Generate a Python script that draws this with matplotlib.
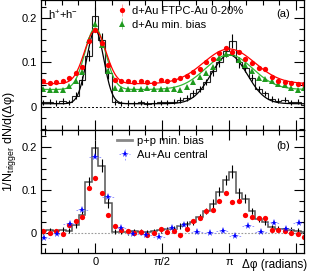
"""
Azimuthal correlations: p+p, d+Au and Au+Au (two panels).
"""
import numpy as np
import matplotlib
matplotlib.use("Agg")
import matplotlib.pyplot as plt
from matplotlib.ticker import MultipleLocator

plt.rcParams['font.family'] = ['Liberation Sans', 'DejaVu Sans']
plt.rcParams['mathtext.fontset'] = 'custom'
plt.rcParams['mathtext.rm'] = 'Liberation Sans'
plt.rcParams['mathtext.it'] = 'Liberation Sans:italic'

FONT = 8

# binning: fine bins for p+p / d+Au, coarse bins for Au+Au
BIN_W = 2 * np.pi / 41
K_FIRST = -8
AUAU_BIN_W = 2 * np.pi / 21
AUAU_J_FIRST = -4

# panel (a), one value per fine bin, k = -8 .. 32
PP_A = [0.010, 0.012, 0.009, 0.013, 0.010, 0.025, 0.060, 0.115, 0.204, 0.150,
        0.075, 0.010, 0.008, 0.009, 0.008, 0.010, 0.007, 0.009, 0.010, 0.010,
        0.012, 0.015, 0.020, 0.030, 0.040, 0.055, 0.080, 0.100, 0.125, 0.148,
        0.100, 0.088, 0.065, 0.040, 0.030, 0.018, 0.014, 0.016, 0.010, 0.012,
        0.005]
PP_ERR = [0.006, 0.006, 0.006, 0.006, 0.006, 0.008, 0.010, 0.012, 0.020, 0.015,
          0.012, 0.006, 0.006, 0.006, 0.006, 0.006, 0.006, 0.006, 0.006, 0.006,
          0.006, 0.007, 0.007, 0.007, 0.007, 0.007, 0.010, 0.010, 0.012, 0.015,
          0.012, 0.010, 0.008, 0.006, 0.006, 0.006, 0.006, 0.006, 0.006, 0.006,
          0.006]
DAU_CENTRAL_A = [0.057, 0.053, 0.055, 0.057, 0.064, 0.077, 0.089, 0.148, 0.172, 0.143,
                 0.094, 0.061, 0.059, 0.058, 0.055, 0.057, 0.055, 0.053, 0.060, 0.058,
                 0.061, 0.064, 0.070, 0.079, 0.086, 0.100, 0.107, 0.122, 0.133, 0.123,
                 0.124, 0.107, 0.098, 0.088, 0.085, 0.068, 0.059, 0.055, 0.054, 0.052,
                 0.052]
DAU_MINBIAS_A = [0.040, 0.037, 0.037, 0.037, 0.047, 0.058, 0.079, 0.150, 0.185, 0.140,
                 0.080, 0.043, 0.041, 0.040, 0.040, 0.040, 0.043, 0.040, 0.040, 0.040,
                 0.040, 0.037, 0.045, 0.055, 0.067, 0.075, 0.090, 0.110, 0.118, 0.120,
                 0.105, 0.093, 0.080, 0.065, 0.062, 0.057, 0.052, 0.050, 0.042, 0.038,
                 0.043]

# panel (b), pedestal subtracted
PP_B = [0.004, 0.006, 0.004, 0.007, 0.005, 0.019, 0.042, 0.119, 0.197, 0.157,
        0.070, 0.003, 0.003, 0.002, 0.004, 0.003, 0.001, 0.004, 0.006, 0.008,
        0.010, 0.015, 0.020, 0.025, 0.036, 0.050, 0.068, 0.096, 0.123, 0.143,
        0.092, 0.080, 0.050, 0.032, 0.025, 0.013, 0.009, 0.008, 0.007, 0.005,
        0.003]
DAU_CENTRAL_B = [0.005, -0.001, 0.004, -0.002, 0.018, 0.028, 0.038, 0.104, 0.128, 0.093,
                 0.042, 0.015, 0.007, 0.005, 0.000, 0.003, -0.005, 0.000, 0.008, 0.003,
                 0.005, -0.006, 0.008, 0.028, 0.034, 0.052, 0.053, 0.075, 0.093, 0.072,
                 0.074, 0.041, 0.038, 0.035, 0.035, 0.007, 0.007, 0.005, 0.000, -0.002,
                 -0.009]
# Au+Au central, j = -4 .. 16 (coarse bins)
AUAU_CENTRAL = [-0.011, -0.003, 0.020, 0.053, 0.177, 0.084, 0.012, -0.003, -0.005, -0.009,
                0.011, 0.019, 0.001, 0.000, 0.005, -0.007, 0.016, 0.003, 0.024, 0.009,
                0.024]

# fits: pedestal, near amp, near sigma, away amp, away sigma
FIT_PP = (0.007, 0.166, 0.20, 0.110, 0.42)
FIT_DAU_CENTRAL = (0.052, 0.120, 0.25, 0.078, 0.60)
FIT_DAU_MINBIAS = (0.039, 0.138, 0.24, 0.078, 0.55)

XMIN, XMAX = -1.27, 4.90
RED, GREEN, BLUE = '#ff0000', '#1f9a1f', '#0000ff'


def two_gauss(x, ped, a1, s1, a2, s2):
    y = np.full_like(x, ped)
    for sh in (-2 * np.pi, 0.0, 2 * np.pi):
        y += a1 * np.exp(-(x - sh) ** 2 / (2 * s1 ** 2))
        y += a2 * np.exp(-(x - np.pi - sh) ** 2 / (2 * s2 ** 2))
    return y


def style(ax, ylim, labels):
    ax.set_xlim(XMIN, XMAX)
    ax.set_ylim(*ylim)
    ax.set_xticks([0, np.pi / 2, np.pi, 1.5 * np.pi])
    ax.set_xticklabels(['0', 'π/2', 'π', ''] if labels else [])
    ax.xaxis.set_minor_locator(MultipleLocator(np.pi / 8))
    ax.set_yticks([0, 0.1, 0.2])
    ax.set_yticklabels(['0', '0.1', '0.2'])
    ax.yaxis.set_minor_locator(MultipleLocator(0.025))
    ax.tick_params(which='both', direction='in', top=True, right=True,
                   labelsize=FONT, width=0.8)
    ax.tick_params(which='major', length=7, pad=3)
    ax.tick_params(which='minor', length=3.5)
    for s in ax.spines.values():
        s.set_linewidth(0.9)


k = np.arange(K_FIRST, K_FIRST + len(PP_A))
x = k * BIN_W
edges = np.append(x - BIN_W / 2, x[-1] + BIN_W / 2)
xa = np.arange(AUAU_J_FIRST, AUAU_J_FIRST + len(AUAU_CENTRAL)) * AUAU_BIN_W
xf = np.linspace(XMIN, XMAX, 600)

fig = plt.figure(figsize=(3.09, 2.76), dpi=100)
ax1 = fig.add_axes([0.133, 0.529, 0.851, 0.471])
ax2 = fig.add_axes([0.133, 0.0833, 0.851, 0.446])

# ── Panel (a) ─────────────────────────────────────────────────────────────────
ax1.axhline(0, color='k', lw=0.7, ls=(0, (2, 2)))
ax1.stairs(PP_A, edges, color='#222222', lw=0.8)
ax1.errorbar(x, PP_A, yerr=PP_ERR, fmt='none', ecolor='k', elinewidth=0.8)
ax1.plot(xf, two_gauss(xf, *FIT_PP), color='k', lw=0.9)
ax1.plot(xf, two_gauss(xf, *FIT_DAU_MINBIAS), color='#33bb33', lw=0.9)
ax1.plot(xf, two_gauss(xf, *FIT_DAU_CENTRAL), color=RED, lw=0.9)
ax1.errorbar(x, DAU_MINBIAS_A, yerr=0.003, fmt='^', color=GREEN, ms=4.6,
             ecolor='#88cc88', elinewidth=0.6, mew=0, label='d+Au min. bias')
ax1.errorbar(x, DAU_CENTRAL_A, yerr=0.004, fmt='o', color=RED, ms=3.8,
             ecolor='#ff9999', elinewidth=0.6, mew=0, label='d+Au FTPC-Au 0-20%')
style(ax1, (-0.052, 0.24), labels=False)
h, l = ax1.get_legend_handles_labels()
ax1.legend(h[::-1], l[::-1], loc='upper left', bbox_to_anchor=(0.285, 0.955),
           frameon=False, fontsize=FONT, handlelength=1.0, handletextpad=0.45,
           borderpad=0, borderaxespad=0, labelspacing=0.35)
ax1.text(0.025, 0.885, 'h$^{+}$+h$^{-}$', transform=ax1.transAxes,
         fontsize=FONT, va='center')
ax1.text(0.92, 0.89, '(a)', transform=ax1.transAxes, fontsize=FONT,
         ha='center', va='center')

# ── Panel (b) ─────────────────────────────────────────────────────────────────
ax2.axhline(0, color='#999999', lw=0.8, ls=(0, (1.5, 1.5)))
ax2.stairs(PP_B, edges, color='#555555', lw=1.1, label='p+p min. bias')
ax2.errorbar(x, PP_B, yerr=PP_ERR, fmt='none', ecolor='k', elinewidth=0.8)
ax2.errorbar(x, DAU_CENTRAL_B, yerr=0.005, fmt='o', color=RED, ms=3.8,
             ecolor='#ff9999', elinewidth=0.6, mew=0)
eb = ax2.errorbar(xa, AUAU_CENTRAL, xerr=AUAU_BIN_W / 2, yerr=0.003, fmt='*',
                  color=BLUE, ms=5.5, ecolor='#8888ff', elinewidth=0.6, mew=0,
                  label='Au+Au central')
eb[2][0].set_linestyle((0, (2, 2)))
style(ax2, (-0.047, 0.24), labels=True)
h, l = ax2.get_legend_handles_labels()
h[0] = plt.Line2D([], [], color='#888888', lw=2)
ax2.legend(h, l, loc='upper left', bbox_to_anchor=(0.29, 0.95),
           frameon=False, fontsize=FONT, handlelength=1.3, handletextpad=0.45,
           borderpad=0, borderaxespad=0, labelspacing=0.35)
ax2.text(0.92, 0.87, '(b)', transform=ax2.transAxes, fontsize=FONT,
         ha='center', va='center')

fig.text(0.032, 0.486, '1/N$_{\\mathrm{trigger}}$ dN/d(Δφ)', rotation=90,
         fontsize=FONT + 1, ha='center', va='center')
fig.text(0.993, 0.04, 'Δφ (radians)', fontsize=FONT + 0.5, ha='right', va='center')

fig.savefig('out.png', dpi=100)
